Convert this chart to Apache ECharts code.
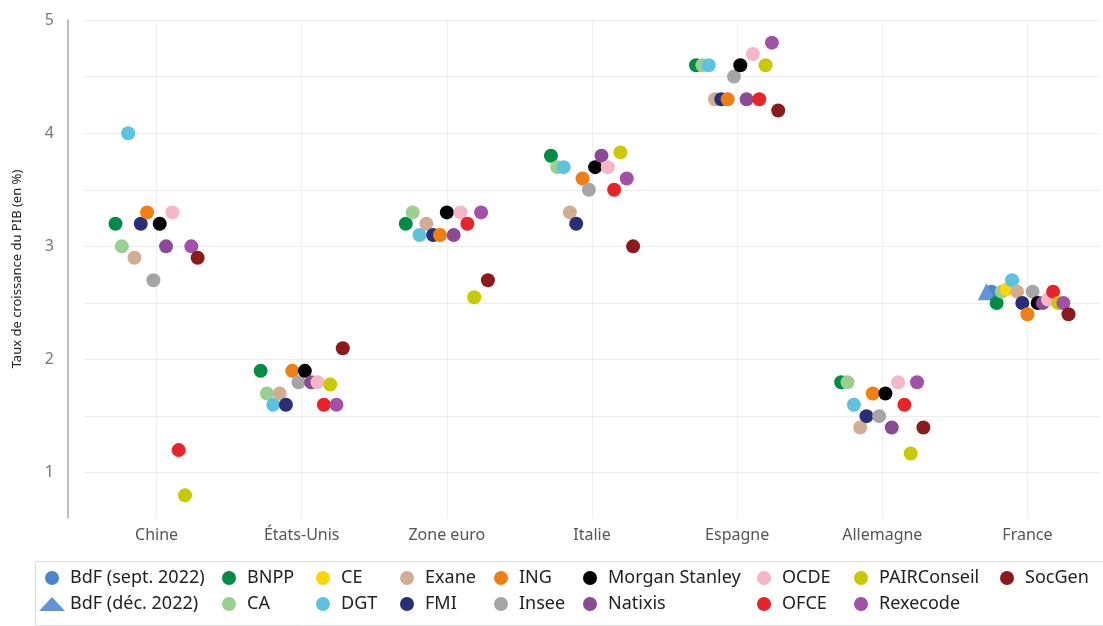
<!DOCTYPE html>
<html><head><meta charset="utf-8">
<script src="https://cdn.jsdelivr.net/npm/echarts@6/dist/echarts.min.js"></script>
<style>html,body{margin:0;padding:0;background:#fff}#c{width:1103px;height:626px}</style>
</head><body><div id="c"></div>
<script>
// ---- data ----
const categories = ['Chine', 'États-Unis', 'Zone euro', 'Italie', 'Espagne', 'Allemagne', 'France'];
const yTickLabels = [1, 2, 3, 4, 5];
const yGridValues = [1, 1.5, 2, 2.5, 3, 3.5, 4, 4.5, 5];
const xGridValues = [0, 1, 2, 3, 4, 5, 6];
const seriesNames = ['BdF (sept. 2022)', 'BdF (déc. 2022)', 'BNPP', 'CA', 'CE', 'DGT', 'Exane', 'FMI', 'ING', 'Insee', 'Morgan Stanley', 'Natixis', 'OCDE', 'OFCE', 'PAIRConseil', 'Rexecode', 'SocGen'];
const bdfSept   = [null, null, null, null, null, null, 2.6];
const bdfDec    = [null, null, null, null, null, null, 2.6];
const bnpp      = [3.2, 1.9, 3.2, 3.8, 4.6, 1.8, 2.5];
const ca        = [3.0, 1.7, 3.3, 3.7, 4.6, 1.8, 2.6];
const ce        = [null, null, null, null, null, null, 2.62];
const dgt       = [4.0, 1.6, 3.1, 3.7, 4.6, 1.6, 2.7];
const exane     = [2.9, 1.7, 3.2, 3.3, 4.3, 1.4, 2.6];
const fmi       = [3.2, 1.6, 3.1, 3.2, 4.3, 1.5, 2.5];
const ing       = [3.3, 1.9, 3.1, 3.6, 4.3, 1.7, 2.4];
const insee     = [2.7, 1.8, null, 3.5, 4.5, 1.5, 2.6];
const morgan    = [3.2, 1.9, 3.3, 3.7, 4.6, 1.7, 2.5];
const natixis   = [3.0, 1.8, 3.1, 3.8, 4.3, 1.4, 2.5];
const ocde      = [3.3, 1.8, 3.3, 3.7, 4.7, 1.8, 2.53];
const ofce      = [1.2, 1.6, 3.2, 3.5, 4.3, 1.6, 2.6];
const pair      = [0.8, 1.78, 2.55, 3.83, 4.6, 1.17, 2.5];
const rexecode  = [3.0, 1.6, 3.3, 3.6, 4.8, 1.8, 2.5];
const socgen    = [2.9, 2.1, 2.7, 3.0, 4.2, 1.4, 2.4];

const valuesByName = {
  'BdF (sept. 2022)': bdfSept, 'BdF (déc. 2022)': bdfDec, 'BNPP': bnpp, 'CA': ca, 'CE': ce,
  'DGT': dgt, 'Exane': exane, 'FMI': fmi, 'ING': ing, 'Insee': insee, 'Morgan Stanley': morgan,
  'Natixis': natixis, 'OCDE': ocde, 'OFCE': ofce, 'PAIRConseil': pair, 'Rexecode': rexecode, 'SocGen': socgen
};

// ---- style ----
const colors = {
  'BdF (sept. 2022)': '#4a86d0', 'BdF (déc. 2022)': '#6494d8', 'BNPP': '#008c45', 'CA': '#99d08f',
  'CE': '#ffd500', 'DGT': '#5bc2e0', 'Exane': '#d1ae93', 'FMI': '#262f78', 'ING': '#f07e10',
  'Insee': '#a5a5a5', 'Morgan Stanley': '#000000', 'Natixis': '#8c4a96', 'OCDE': '#f6b6c6',
  'OFCE': '#e92428', 'PAIRConseil': '#c9c900', 'Rexecode': '#a350aa', 'SocGen': '#8c1a1a'
};
// horizontal placement order of the dots inside a category
const slotOrder = ['BdF (déc. 2022)', 'BdF (sept. 2022)', 'BNPP', 'CA', 'CE', 'DGT', 'Exane', 'FMI', 'ING', 'Insee', 'Morgan Stanley', 'Natixis', 'OCDE', 'OFCE', 'PAIRConseil', 'Rexecode', 'SocGen'];
const SPREAD = 0.566;
const FONT = "'Noto Sans', sans-serif";

const pos = {};
seriesNames.forEach(n => pos[n] = []);
categories.forEach((cat, c) => {
  const present = slotOrder.filter(n => valuesByName[n][c] != null);
  const k = present.length;
  present.forEach((n, r) => {
    const off = k > 1 ? (r / (k - 1) - 0.5) * SPREAD : 0;
    pos[n].push([c + off, valuesByName[n][c]]);
  });
});

const series = seriesNames.map(n => ({
  name: n,
  type: 'scatter',
  xAxisIndex: 1,
  symbol: n === 'BdF (déc. 2022)' ? 'triangle' : 'circle',
  symbolSize: n === 'BdF (déc. 2022)' ? 17 : 14,
  itemStyle: { color: colors[n], opacity: 1 },
  emphasis: { disabled: true },
  data: pos[n]
}));

const legendCols = [
  ['BdF (sept. 2022)', 'BdF (déc. 2022)'], ['BNPP', 'CA'], ['CE', 'DGT'], ['Exane', 'FMI'],
  ['ING', 'Insee'], ['Morgan Stanley', 'Natixis'], ['OCDE', 'OFCE'], ['PAIRConseil', 'Rexecode'], ['SocGen']
];
const legendLefts = [39, 222, 316, 400, 494, 583, 757, 854, 1000];
const legends = legendCols.map((d, i) => ({
  orient: 'vertical', left: legendLefts[i], top: 568,
  itemWidth: 26, itemHeight: 14, itemGap: 6, padding: 0,
  selectedMode: false,
  textStyle: { fontSize: 18, color: '#222', fontFamily: FONT, lineHeight: 20 },
  data: d
}));

const chart = echarts.init(document.getElementById('c'), null, { renderer: 'canvas' });
chart.setOption({
  backgroundColor: '#fff',
  animation: false,
  textStyle: { fontFamily: FONT },
  grid: { left: 84, right: 3, top: 20, bottom: 108 },
  legend: legends,
  graphic: [{
    type: 'rect', left: 33, top: 559, shape: { width: 1075, height: 64 },
    style: { fill: 'none', stroke: '#dcdcdc', lineWidth: 1 }, silent: true
  }],
  xAxis: [
    {
      type: 'category', data: categories, boundaryGap: true,
      axisLine: { show: false }, axisTick: { show: false }, splitLine: { show: false },
      axisLabel: { fontSize: 16, color: '#555', margin: 9, fontFamily: FONT }
    },
    {
      type: 'value', min: -0.5, max: 6.5, show: true,
      axisLine: { show: false, onZero: false }, axisLabel: { show: false },
      axisTick: { show: false, customValues: xGridValues },
      splitLine: { show: true, lineStyle: { color: '#efefef', width: 1 } }
    }
  ],
  yAxis: {
    type: 'value', min: 0.6, max: 5, offset: 16,
    name: 'Taux de croissance du PIB (en %)', nameLocation: 'middle', nameRotate: 90, nameGap: 44,
    nameTextStyle: { fontSize: 13, color: '#222', fontFamily: FONT },
    axisLine: { show: true, onZero: false, lineStyle: { color: '#aaa', width: 1.5 } },
    axisTick: { show: false, customValues: yGridValues },
    axisLabel: { customValues: yTickLabels, fontSize: 16, color: '#777', margin: 14, fontFamily: FONT },
    splitLine: { show: true, lineStyle: { color: '#ececec', width: 1 } }
  },
  series: series
});
</script></body></html>
